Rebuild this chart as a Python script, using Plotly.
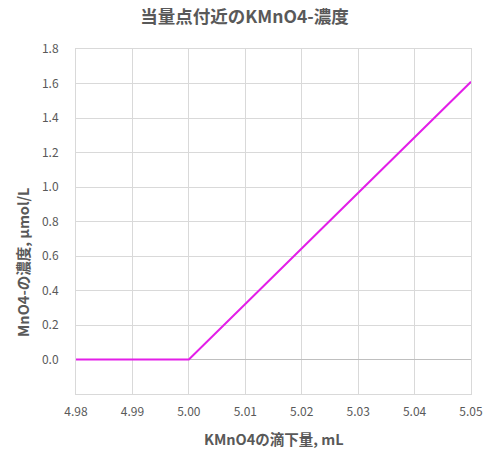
import plotly.graph_objects as go

x_ml = [4.98, 4.99, 5.00, 5.01, 5.02, 5.03, 5.04, 5.05]
conc = [0.0, 0.0, 0.0, 0.322, 0.644, 0.966, 1.288, 1.61]
x_ticks = [4.98, 4.99, 5.00, 5.01, 5.02, 5.03, 5.04, 5.05]
y_ticks = [0.0, 0.2, 0.4, 0.6, 0.8, 1.0, 1.2, 1.4, 1.6, 1.8]

FONT = "Noto Sans CJK JP"
GRAY = "#595959"
GRID = "#D9D9D9"

fig = go.Figure()
fig.add_trace(go.Scatter(x=x_ml, y=conc, mode="lines",
                         line=dict(color="#E31FE8", width=2), showlegend=False))

fig.update_layout(
    width=489, height=461,
    margin=dict(l=76, r=18, t=49, b=67, autoexpand=False),
    paper_bgcolor="white", plot_bgcolor="white",
    font=dict(family=FONT, color=GRAY, size=12),
    title=dict(text="<b>当量点付近のKMnO4-濃度</b>", x=0.5, xanchor="center",
               y=1 - 17 / 461, yanchor="middle",
               font=dict(family=FONT, size=17.5, color=GRAY)),
    xaxis=dict(range=[4.98, 5.05], tickvals=x_ticks,
               ticktext=[f"{v:.2f}" for v in x_ticks],
               showgrid=True, gridcolor=GRID, gridwidth=1,
               showline=True, linecolor=GRID, mirror=True,
               zeroline=False, ticks="", ticklabelstandoff=7),
    yaxis=dict(range=[-0.2, 1.8], tickvals=y_ticks,
               ticktext=[f"{v:.1f}" for v in y_ticks],
               showgrid=True, gridcolor=GRID, gridwidth=1,
               showline=True, linecolor=GRID, mirror=True,
               zeroline=True, zerolinecolor="#BFBFBF", zerolinewidth=1,
               ticks="", ticklabelstandoff=14),
    annotations=[
        dict(text="<b>KMnO4の滴下量, mL</b>", xref="paper", yref="paper",
             x=0.5, y=-(438 - 394) / 345, xanchor="center", yanchor="middle",
             showarrow=False, font=dict(family=FONT, size=14.5, color=GRAY)),
        dict(text="<b>MnO4-の濃度, μmol/L</b>", xref="paper", yref="paper",
             x=-(76 - 22) / 395, y=(394 - 262) / 345, xanchor="center", yanchor="middle",
             textangle=-90, showarrow=False,
             font=dict(family=FONT, size=14.5, color=GRAY)),
    ],
)

fig.write_html("out.html", config={"displayModeBar": False},
               post_script="document.body.style.margin='0';")
